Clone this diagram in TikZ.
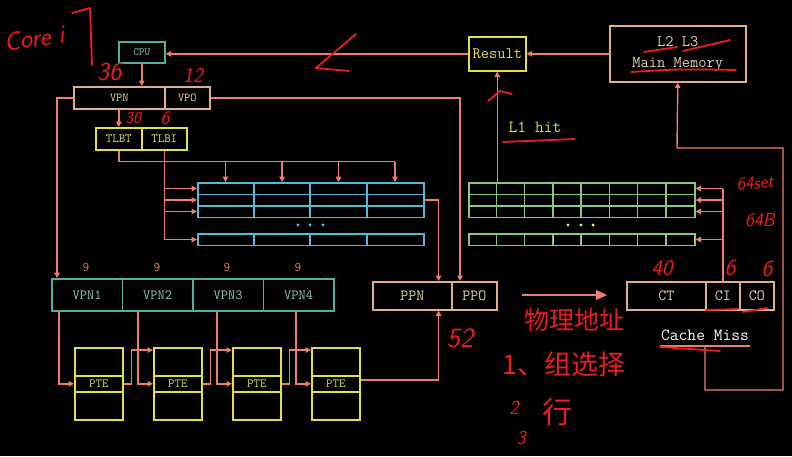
\documentclass[tikz,border=0pt]{standalone}
\usepackage{fontspec}
\newfontfamily\cjkfont{Noto Sans CJK SC}
\usetikzlibrary{arrows.meta}
\definecolor{salmon}{RGB}{240,126,110}
\definecolor{tealb}{RGB}{78,176,160}
\definecolor{tealt}{RGB}{150,200,190}
\definecolor{tanb}{RGB}{222,176,130}
\definecolor{tant}{RGB}{232,212,180}
\definecolor{yel}{RGB}{228,224,60}
\definecolor{yelt}{RGB}{232,230,130}
\definecolor{cyanb}{RGB}{84,186,218}
\definecolor{greenb}{RGB}{140,198,120}
\definecolor{redh}{RGB}{238,28,28}
\begin{document}
\begin{tikzpicture}[x=1pt,y=-1pt,
  conn/.style={draw=salmon,line width=1.4pt},
  arr/.style={conn,-{Triangle[length=5.5pt,width=5.5pt]}},
  bx/.style={draw,line width=1.6pt,inner sep=0pt,anchor=north west},
  fs/.style={font=\ttfamily\fontsize{#1}{#1}\selectfont},
  hand/.style={text=redh,font=\sffamily\itshape\fontsize{#1}{#1}\selectfont},
  handcjk/.style={text=redh,font=\cjkfont\fontsize{#1}{#1}\selectfont},
  stroke/.style={draw=redh,line width=1.8pt,line cap=round,line join=round},
  tanbox/.style={bx,draw=tanb,text=tant},
  yelbox/.style={bx,draw=yel,text=yelt},
  tealbox/.style={bx,draw=tealb,text=tealt},
  rowc/.style={bx,draw=cyanb,line width=1.5pt,minimum width=226pt,minimum height=11.5pt},
  rowg/.style={bx,draw=greenb,line width=1.5pt,minimum width=226pt,minimum height=11.5pt},
]
\fill[black] (0,0) rectangle (792,456);
\useasboundingbox (0,0) rectangle (792,456);

% ---- boxes
\node[tealbox,fs=11,minimum width=46pt,minimum height=21pt] (cpu) at (118,41) {CPU};
\node[tanbox,fs=12,minimum width=91pt,minimum height=22pt] (vpn) at (73,86) {VPN};
\node[tanbox,fs=12,minimum width=45pt,minimum height=22pt] (vpo) at (164,86) {VPO};
\node[yelbox,fs=12.5,minimum width=46pt,minimum height=22pt] (tlbt) at (95,127) {TLBT};
\node[yelbox,fs=12.5,minimum width=45pt,minimum height=22pt] (tlbi) at (141,127) {TLBI};
\node[yelbox,draw=yel,text=yel,fs=16,minimum width=57pt,minimum height=34pt] (result) at (468,36) {Result};
\node[tanbox,minimum width=136pt,minimum height=56pt,align=center,
      font=\ttfamily\fontsize{16}{21}\selectfont] (mm) at (609,25) {L2 L3\\Main Memory};

\node[tealbox,fs=14,minimum width=70.5pt,minimum height=32pt] (vpnA) at (51,278) {VPN1};
\node[tealbox,fs=14,minimum width=70.5pt,minimum height=32pt] (vpnB) at (121.5,278) {VPN2};
\node[tealbox,fs=14,minimum width=70.5pt,minimum height=32pt] (vpnC) at (192,278) {VPN3};
\node[tealbox,fs=14,minimum width=70.5pt,minimum height=32pt] (vpnD) at (262.5,278) {VPN4};
\foreach \x/\n in {86/a,157/b,227/c,298/d}
  \node[text=salmon,fs=13] (nine\n) at (\x,268) {9};

\foreach \x/\i in {74/1,153/2,232/3,311/4}{
  \node[yelbox,minimum width=48pt,minimum height=28pt] (pte\i t) at (\x,347) {};
  \node[yelbox,text=yel,fs=12.5,minimum width=48pt,minimum height=16pt] (pte\i) at (\x,375) {PTE};
  \node[yelbox,minimum width=48pt,minimum height=28pt] (pte\i b) at (\x,391) {};
}

\node[tanbox,fs=15.5,minimum width=79pt,minimum height=28pt] (ppn) at (372,281) {PPN};
\node[tanbox,fs=15.5,minimum width=45pt,minimum height=28pt] (ppo) at (451,281) {PPO};
\node[tanbox,fs=15.5,minimum width=79pt,minimum height=28pt] (ct) at (626,281) {CT};
\node[tanbox,fs=15.5,minimum width=34pt,minimum height=28pt] (ci) at (705,281) {CI};
\node[tanbox,fs=15.5,minimum width=34pt,minimum height=28pt] (co) at (739,281) {CO};

\node[text=yel,fs=17] (l1hit) at (535,127) {L1 hit};
\node[text=white,fs=17] (cmiss) at (705,335) {Cache Miss};

% ---- TLB table (cyan)
\node[rowc] (tr1) at (197,182) {};
\node[rowc] (tr2) at (197,193.5) {};
\node[rowc] (tr3) at (197,205) {};
\node[rowc] (tr4) at (197,233) {};
\foreach \x in {254,310,367}{
  \draw[draw=cyanb,line width=1.5pt] (\x,182) -- (\x,216.5);
  \draw[draw=cyanb,line width=1.5pt] (\x,233) -- (\x,244.5);
}
\foreach \x in {298,310,323} \fill[cyanb] (\x,225) circle (1.6pt);

% ---- L1 table (green)
\node[rowg] (lr1) at (468,182) {};
\node[rowg] (lr2) at (468,193.5) {};
\node[rowg] (lr3) at (468,205) {};
\node[rowg] (lr4) at (468,233) {};
\foreach \k in {1,...,7}{
  \draw[draw=greenb,line width=1.5pt] (468+28.25*\k,182) -- (468+28.25*\k,216.5);
  \draw[draw=greenb,line width=1.5pt] (468+28.25*\k,233) -- (468+28.25*\k,244.5);
}
\foreach \x in {568,581,593} \fill[yelt] (\x,225) circle (1.6pt);

% ---- connectors
\draw[arr] (result.west) -- (result.west -| cpu.east);
\draw[arr] (mm.west) -- (mm.west -| result.east);
\draw[arr] (cpu.south) -- (cpu.south |- vpn.north);
\draw[arr] (vpn.west) -| ([xshift=6pt]vpnA.north west);
\draw[arr] (vpo.east) -| ([xshift=9pt]ppo.north west);
\draw[arr] (vpn.south -| tlbt.north) -- (tlbt.north);

\coordinate (tc1) at (225.5,182);
\coordinate (tc2) at (282,182);
\coordinate (tc3) at (338.5,182);
\coordinate (tc4) at (395,182);
\path (tlbt.south) ++(0,11) coordinate (tbend);
\draw[conn] (tlbt.south) -- (tbend) -- (tbend -| tc4);
\foreach \i in {1,...,4} \draw[arr] (tbend -| tc\i) -- (tc\i);

\draw[conn] (tlbi.south) -- (tlbi.south |- tr4.west);
\foreach \i in {1,...,4} \draw[arr] (tlbi.south |- tr\i.west) -- (tr\i.west);

\draw[arr] (tr2.east) -| ([xshift=-14pt]ppn.north east);

\draw[arr] ([xshift=8pt]vpnA.south west) |- (pte1.west);
\draw[arr] ([xshift=16.5pt]vpnB.south west) |- (pte2.west);
\draw[arr] ([xshift=25pt]vpnC.south west) |- (pte3.west);
\draw[arr] ([xshift=33.5pt]vpnD.south west) |- (pte4.west);

\draw[arr] (pte1.east) -- ++(8,0) |- ([yshift=-3pt]pte2t.north west);
\draw[arr] (pte2.east) -- ++(8,0) |- ([yshift=-3pt]pte3t.north west);
\draw[arr] (pte3.east) -- ++(8,0) |- ([yshift=-3pt]pte4t.north west);
\draw[arr] ([yshift=4pt]pte4.east) -| ([xshift=-14pt]ppn.south east);

\coordinate (pa1) at (522,295);
\coordinate (pa2) at (607,295);
\draw[conn,-{Triangle[length=11pt,width=10pt]}] (pa1) -- (pa2);

\draw[conn] (ci.north) -- (ci.north |- lr1.east);
\foreach \i in {1,...,4} \draw[arr] (ci.north |- lr\i.east) -- (lr\i.east);

\draw[arr] (result.south |- lr1.north) -- (result.south);

\coordinate (cmL) at (660,346);
\coordinate (cmR) at (750,346);
\coordinate (cmM) at (705,346);
\coordinate (lpA) at (783,390);
\coordinate (lpB) at (677,148);
\draw[conn] (cmL) -- (cmR);
\draw[arr] (cmM) |- (lpA) |- (lpB) -- (mm.south);

% ---- handwritten annotations
\node[hand=26,rotate=8] (core) at (34,38) {Core i};
\draw[stroke] (72,13) -- (90,8) -- (92,65);
\node[hand=26] (h36) at (109,72) {36};
\node[hand=21] (h12) at (193,75) {12};
\node[hand=17] (h30) at (133,118) {30};
\node[hand=19] (h6a) at (165,118) {6};
\node[hand=22] (h40) at (662,268) {40};
\node[hand=23] (h6b) at (730,268) {6};
\node[hand=23] (h6c) at (767,269) {6};
\node[hand=18,rotate=5] (h64s) at (755,183) {64set};
\node[hand=19] (h64b) at (760,220) {64B};
\node[hand=28] (h52) at (460,338) {52};
\node[handcjk=25] (hphys) at (574,320) {物理地址};
\node[handcjk=27] (hsel) at (564,364) {1、组选择};
\node[hand=20] (h2) at (514,408) {2};
\node[handcjk=30] (hrow) at (557,412) {行};
\node[hand=20] (h3) at (521,438) {3};

\draw[stroke] (356,34) -- (316,68) -- (349,71);
\draw[stroke] (488,101) -- (500,91) -- (512,94);
\draw[stroke] (644,52) -- (677,47);
\draw[stroke] (683,51) -- (730,40);
\draw[stroke] (631,72) .. controls (680,69) .. (736,70);
\draw[stroke] (503,142) -- (575,139);
\draw[stroke] (706,310) -- (737,309);
\draw[stroke] (743,312) -- (767,308);
\draw[stroke] (660,347) -- (720,351);
\end{tikzpicture}
\end{document}
